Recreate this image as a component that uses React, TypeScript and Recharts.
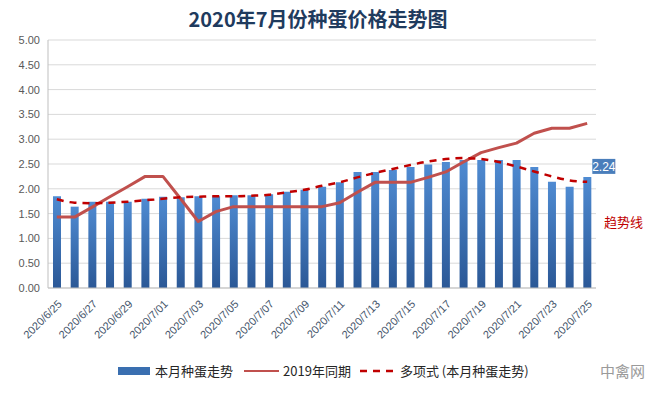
import { Bar, CartesianGrid, ComposedChart, LabelList, Line, XAxis, YAxis } from "recharts";

const dates = [
  "2020/6/25", "2020/6/26", "2020/6/27", "2020/6/28", "2020/6/29", "2020/6/30",
  "2020/7/01", "2020/7/02", "2020/7/03", "2020/7/04", "2020/7/05", "2020/7/06",
  "2020/7/07", "2020/7/08", "2020/7/09", "2020/7/10", "2020/7/11", "2020/7/12",
  "2020/7/13", "2020/7/14", "2020/7/15", "2020/7/16", "2020/7/17", "2020/7/18",
  "2020/7/19", "2020/7/20", "2020/7/21", "2020/7/22", "2020/7/23", "2020/7/24",
  "2020/7/25",
];

// 本月种蛋走势
const thisMonth = [
  1.85, 1.64, 1.74, 1.74, 1.74, 1.8, 1.84, 1.83, 1.85, 1.85, 1.87, 1.87, 1.89, 1.94, 1.98, 2.04,
  2.13, 2.34, 2.34, 2.38, 2.44, 2.49, 2.54, 2.58, 2.58, 2.58, 2.58, 2.44, 2.14, 2.04, 2.24,
];

// 2019年同期
const lastYear = [
  1.43, 1.43, 1.63, 1.84, 2.04, 2.25, 2.25, 1.8, 1.34, 1.54, 1.64, 1.64, 1.64, 1.64, 1.64, 1.64,
  1.72, 1.93, 2.13, 2.13, 2.13, 2.23, 2.34, 2.54, 2.73, 2.83, 2.92, 3.12, 3.22, 3.22, 3.32,
];

// 多项式 (本月种蛋走势)
const trend = [
  1.79, 1.72, 1.71, 1.72, 1.74, 1.77, 1.8, 1.83, 1.84, 1.85, 1.85, 1.86, 1.88, 1.93, 1.98, 2.06,
  2.13, 2.23, 2.32, 2.4, 2.48, 2.55, 2.6, 2.62, 2.6, 2.54, 2.45, 2.35, 2.25, 2.17, 2.14,
];

const yTicks = [0, 0.5, 1, 1.5, 2, 2.5, 3, 3.5, 4, 4.5, 5];

const rows = dates.map((date, i) => ({
  date,
  cur: thisMonth[i],
  prev: lastYear[i],
  trend: trend[i],
}));

const FONT = "'Liberation Sans', 'Noto Sans CJK SC', sans-serif";
const CJK = "'Noto Sans CJK SC', 'Liberation Sans', sans-serif";

function DateTick({ x, y, payload }: any) {
  return (
    <g transform={`translate(${x + 3},${y + 6}) rotate(-45)`}>
      <text textAnchor="end" dy="0.35em" fontSize={11} fill="#44546A" fontFamily={FONT}>
        {payload.value}
      </text>
    </g>
  );
}

function LastLabel(props: any) {
  const { x, y, width, index, value } = props;
  if (index !== rows.length - 1) return null;
  const bx = x + width / 2 + 5;
  const by = y - 18;
  return (
    <g>
      <rect x={bx} y={by} width={23} height={15} fill="#4A7EBB" />
      <text
        x={bx + 11.5}
        y={by + 7.5}
        dy="0.35em"
        textAnchor="middle"
        fontSize={12}
        fill="#fff"
        fontFamily={FONT}
      >
        {Number(value).toFixed(2)}
      </text>
    </g>
  );
}

export default function App() {
  return (
    <div
      style={{
        position: "absolute",
        left: 0,
        top: 0,
        width: 648,
        height: 393,
        background: "#fff",
        overflow: "hidden",
      }}
    >
      <div
        style={{
          position: "absolute",
          top: 4,
          left: 0,
          width: 636,
          textAlign: "center",
          fontFamily: CJK,
          fontWeight: 700,
          fontSize: 20,
          color: "#1F3B5E",
        }}
      >
        2020年7月份种蛋价格走势图
      </div>

      <ComposedChart
        width={648}
        height={393}
        data={rows}
        margin={{ top: 40, right: 52, left: 0, bottom: 45 }}
        barCategoryGap={0}
      >
        <defs>
          <linearGradient id="barFill" x1="0" y1="0" x2="0" y2="1">
            <stop offset="0%" stopColor="#4F8BD2" />
            <stop offset="100%" stopColor="#2B5896" />
          </linearGradient>
        </defs>
        <CartesianGrid vertical={false} stroke="#D9D9D9" />
        <XAxis
          dataKey="date"
          interval={1}
          tick={<DateTick />}
          tickLine={false}
          axisLine={{ stroke: "#BFBFBF" }}
          height={60}
        />
        <YAxis
          domain={[0, 5]}
          ticks={yTicks}
          width={48}
          tickLine={false}
          axisLine={{ stroke: "#BFBFBF" }}
          tickFormatter={(v: number) => v.toFixed(2)}
          tick={{ fontSize: 11, fill: "#595959", fontFamily: FONT }}
        />
        <Bar dataKey="cur" name="本月种蛋走势" fill="url(#barFill)" barSize={8} isAnimationActive={false}>
          <LabelList dataKey="cur" content={<LastLabel />} />
        </Bar>
        <Line
          type="linear"
          dataKey="prev"
          name="2019年同期"
          stroke="#C0504D"
          strokeWidth={3}
          strokeLinejoin="round"
          dot={false}
          isAnimationActive={false}
        />
        <Line
          type="monotone"
          dataKey="trend"
          name="多项式 (本月种蛋走势)"
          stroke="#C00000"
          strokeWidth={2.5}
          strokeDasharray="7 6"
          dot={false}
          isAnimationActive={false}
        />
      </ComposedChart>

      <div
        style={{
          position: "absolute",
          left: 604,
          top: 212,
          fontFamily: CJK,
          fontSize: 13,
          color: "#C00000",
        }}
      >
        趋势线
      </div>

      <div
        style={{
          position: "absolute",
          left: 118,
          top: 361,
          display: "flex",
          alignItems: "center",
          fontFamily: CJK,
          fontSize: 13,
          color: "#262626",
          whiteSpace: "nowrap",
        }}
      >
        <span style={{ display: "inline-block", width: 32, height: 8, background: "#3A6FB0", marginRight: 5 }} />
        <span style={{ marginRight: 11 }}>本月种蛋走势</span>
        <span style={{ display: "inline-block", width: 35, height: 2, background: "#C0504D", marginRight: 4 }} />
        <span style={{ marginRight: 9 }}>2019年同期</span>
        <svg width={36} height={4} style={{ marginRight: 4 }}>
          <line x1={0} y1={2} x2={36} y2={2} stroke="#C00000" strokeWidth={2.5} strokeDasharray="7 6" />
        </svg>
        <span>多项式 (本月种蛋走势)</span>
      </div>

      <div
        style={{
          position: "absolute",
          left: 600,
          top: 360,
          fontFamily: CJK,
          fontSize: 15,
          color: "#9A9A9A",
        }}
      >
        中禽网
      </div>
    </div>
  );
}
